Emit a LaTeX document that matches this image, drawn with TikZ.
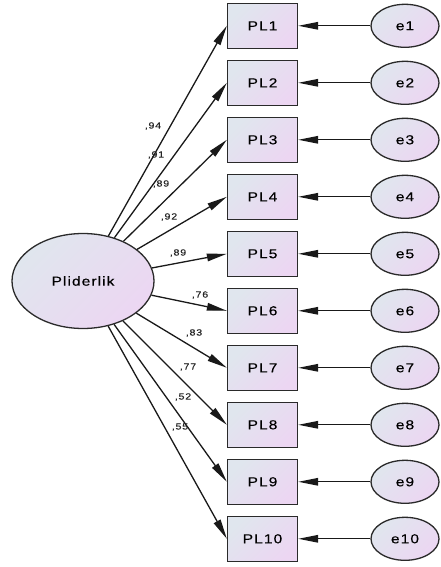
\documentclass[tikz,border=0pt]{standalone}
\usepackage{fontspec}
\setmainfont{Liberation Sans}
\newfontfamily\amosfont[FakeStretch=1.2, LetterSpace=8, FakeBold=0.25]{Liberation Sans}
\usetikzlibrary{calc}
\usetikzlibrary{shapes,arrows}
\usetikzlibrary{arrows.meta}

\definecolor{amosTop}{HTML}{E0E6EE}
\definecolor{amosBot}{HTML}{ECD6F2}
\definecolor{amosLine}{HTML}{2A2A2A}

\tikzset{
    amosfill/.style={draw=amosLine, line width=1.3pt, top color=amosTop, bottom color=amosBot, shading angle=45},
    obsbox/.style={amosfill, rectangle, minimum width=70pt, minimum height=45pt, inner sep=0pt,
        font=\amosfont\fontsize{13}{15}\selectfont},
    errell/.style={amosfill, ellipse, minimum width=68pt, minimum height=43pt, inner sep=0pt,
        font=\amosfont\fontsize{13}{15}\selectfont},
    latent/.style={amosfill, ellipse, minimum width=142pt, minimum height=95pt, inner sep=0pt,
        font=\amosfont\fontsize{13}{15}\selectfont},
    coef/.style={font=\amosfont\fontsize{9}{11}\selectfont, inner sep=0pt, text=black!85},
    regarrow/.style={line width=1.3pt, draw=black!90, -{Triangle[length=20pt, width=7.5pt]}}
}

\begin{document}
\begin{tikzpicture}[x=1pt, y=-1pt]
    \useasboundingbox (0,0) rectangle (440,567);

    \node[latent] (plid) at (83,281) {Pliderlik};

    \foreach \i in {1,...,10}{
        \node[obsbox] (pl\i) at (262.5, {25.8+57*(\i-1)}) {PL\i};
        \node[errell] (e\i) at (405, {25.8+57*(\i-1)}) {e\i};
        \draw[regarrow] (e\i) -- (pl\i);
        \draw[regarrow] (plid) -- (pl\i.west);
    }

    % standardized loadings
    \foreach \i/\w/\lx/\ly in {1/94/153/126, 2/91/156/155, 3/89/161/184, 4/92/169/217, 5/89/178/253,
                               6/76/200/295, 7/83/194/333, 8/77/188/367, 9/52/183/397, 10/55/180/427}{
        \node[coef] (w\i) at (\lx,\ly) {,\w};
    }
\end{tikzpicture}
\end{document}
